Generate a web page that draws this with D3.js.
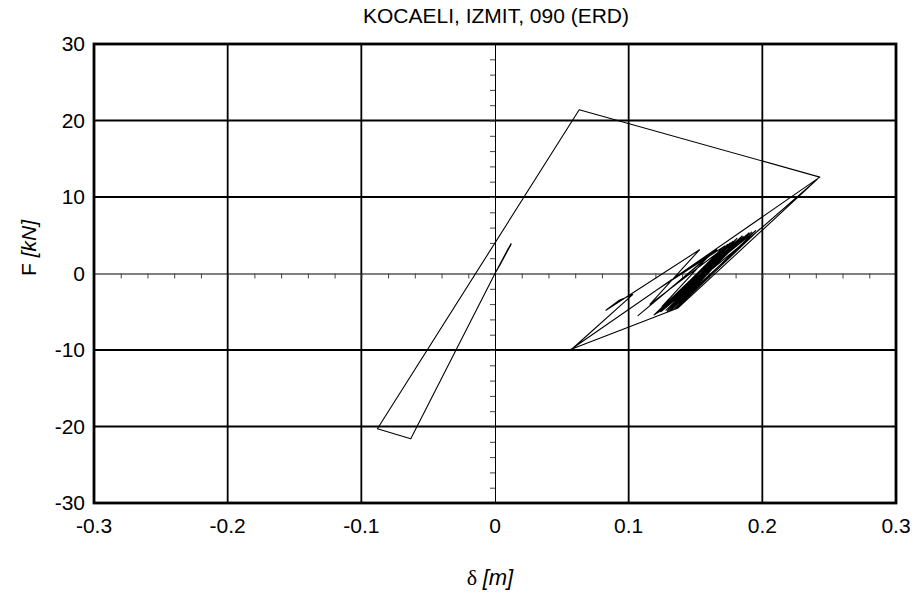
<!DOCTYPE html>
<html>
<head>
<meta charset="utf-8">
<script src="https://cdn.jsdelivr.net/npm/d3@7"></script>
<style>
  body { margin: 0; background: #fff; }
  text { font-family: "Liberation Sans", Arial, sans-serif; fill: #000; }
</style>
</head>
<body>
<svg id="container" width="918" height="596"></svg>
<script>
// hysteresis response, displacement [m] and force [kN]
const dispM = [
    0, 0.012, 0.002, 0.011, 0.001, 0.012, 0.003, 0.010, 0,
    -0.063, -0.088, 0.063, 0.243,
    0.057, 0.137, 0.241, 0.197,
    0.124, 0.190, 0.128, 0.185, 0.121, 0.178, 0.131, 0.172,
    0.118, 0.166, 0.107, 0.160, 0.125, 0.195, 0.134, 0.183,
    0.120, 0.176, 0.129, 0.188, 0.133, 0.170, 0.122, 0.192,
    0.127, 0.181, 0.136, 0.198, 0.130, 0.174, 0.119, 0.186,
    0.132, 0.168, 0.116,
    0.153, 0.083, 0.093, 0.103, 0.058
];
const forceKN = [
    0, 3.9, 0.6, 3.6, 0.3, 3.8, 0.9, 3.3, 0,
    -21.6, -20.3, 21.4, 12.6,
    -9.9, -4.5, 12.3, 5.6,
    -5.0, 5.3, -4.8, 4.9, -5.2, 4.2, -4.6, 3.6,
    -2.5, 3.1, -5.5, 2.3, -4.3, 5.6, -4.7, 4.4,
    -5.3, 4.0, -4.9, 5.0, -4.4, 3.3, -5.1, 5.4,
    -4.6, 4.6, -4.5, 5.8, -5.0, 3.8, -5.4, 4.8,
    -4.8, 2.9, -4.0,
    3.1, -4.8, -3.5, -2.75, -9.8
];
const xTicks = [-0.3, -0.2, -0.1, 0, 0.1, 0.2, 0.3];
const yTicks = [-30, -20, -10, 0, 10, 20, 30];
const chartTitle = "KOCAELI, IZMIT, 090 (ERD)";

const svg = d3.select('#container');
const margin = { top: 44, right: 22, bottom: 93, left: 94 };
const width = 918 - margin.left - margin.right;
const height = 596 - margin.top - margin.bottom;

const xScale = d3.scaleLinear().domain([-0.3, 0.3]).range([0, width]);
const yScale = d3.scaleLinear().domain([-30, 30]).range([height, 0]);

const g = svg.append('g')
    .attr('transform', 'translate(' + margin.left + ',' + margin.top + ')');

// grid lines
g.selectAll('.vgrid').data(xTicks.filter(d => d !== 0 && Math.abs(d) < 0.3)).enter()
    .append('line')
    .attr('x1', d => xScale(d)).attr('x2', d => xScale(d))
    .attr('y1', 0).attr('y2', height)
    .attr('stroke', '#000').attr('stroke-width', 1.8);
g.selectAll('.hgrid').data(yTicks.filter(d => d !== 0 && Math.abs(d) < 30)).enter()
    .append('line')
    .attr('y1', d => yScale(d)).attr('y2', d => yScale(d))
    .attr('x1', 0).attr('x2', width)
    .attr('stroke', '#000').attr('stroke-width', 1.8);

// zero axes with minor ticks
const xZero = g.append('g')
    .attr('transform', 'translate(0,' + yScale(0) + ')')
    .call(d3.axisBottom(xScale).tickValues(d3.range(-14, 15).map(i => i * 0.02)).tickSize(5).tickFormat(''));
const yZero = g.append('g')
    .attr('transform', 'translate(' + xScale(0) + ',0)')
    .call(d3.axisLeft(yScale).tickValues(d3.range(-14, 15).map(i => i * 2)).tickSize(5).tickFormat(''));
[xZero, yZero].forEach(ax => {
    ax.select('.domain').attr('stroke', '#000').attr('stroke-width', 1);
    ax.selectAll('.tick line').attr('stroke', '#444').attr('stroke-width', 1);
});

// response curve
const pts = dispM.map((d, i) => [d, forceKN[i]]);
g.append('path')
    .datum(pts)
    .attr('fill', 'none')
    .attr('stroke', '#000')
    .attr('stroke-width', 1.1)
    .attr('stroke-linejoin', 'round')
    .attr('d', d3.line().x(d => xScale(d[0])).y(d => yScale(d[1])));

// frame
g.append('rect')
    .attr('x', 0).attr('y', 0).attr('width', width).attr('height', height)
    .attr('fill', 'none').attr('stroke', '#000').attr('stroke-width', 2.8);

// tick labels
g.selectAll('.xlab').data(xTicks).enter()
    .append('text')
    .attr('x', d => xScale(d)).attr('y', height + 30)
    .attr('text-anchor', 'middle')
    .style('font-size', '21px')
    .text(d => d3.format('')(d).replace('−', '-'));
g.selectAll('.ylab').data(yTicks).enter()
    .append('text')
    .attr('x', -9).attr('y', d => yScale(d) + 7)
    .attr('text-anchor', 'end')
    .style('font-size', '21px')
    .text(d => d);

// titles
svg.append('text')
    .attr('x', 496).attr('y', 23)
    .attr('text-anchor', 'middle')
    .style('font-size', '21px')
    .text(chartTitle);

const xt = svg.append('text')
    .attr('x', 490).attr('y', 585)
    .attr('text-anchor', 'middle')
    .style('font-size', '22px');
xt.append('tspan').style('font-family', '"Liberation Serif", serif').text('δ ');
xt.append('tspan').style('font-style', 'italic').text('[m]');

const yt = svg.append('text')
    .attr('transform', 'translate(36,' + 248 + ') rotate(-90)')
    .attr('text-anchor', 'middle')
    .style('font-size', '21px');
yt.append('tspan').text('F ');
yt.append('tspan').style('font-style', 'italic').text('[kN]');
</script>
</body>
</html>
